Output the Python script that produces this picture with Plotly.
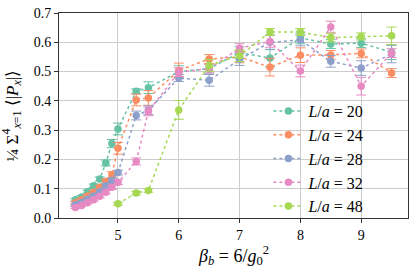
import plotly.graph_objects as go

beta_low = [4.3, 4.4, 4.5, 4.6, 4.7, 4.8, 4.9, 5.0, 5.3, 5.5, 6.0, 6.5, 7.0, 7.5, 8.0, 8.5, 9.0, 9.5]
beta_48 = [5.0, 5.3, 5.5, 6.0, 6.5, 7.0, 7.5, 8.0, 8.5, 9.0, 9.5]

p_L20 = [0.062, 0.072, 0.090, 0.110, 0.133, 0.188, 0.254, 0.304, 0.433, 0.445, 0.500, 0.510, 0.565, 0.546, 0.615, 0.594, 0.597, 0.566]
e_L20 = [0.004, 0.004, 0.005, 0.006, 0.007, 0.010, 0.014, 0.020, 0.008, 0.020, 0.020, 0.015, 0.020, 0.030, 0.020, 0.015, 0.015, 0.025]
p_L24 = [0.052, 0.062, 0.075, 0.088, 0.105, 0.125, 0.148, 0.238, 0.403, 0.410, 0.504, 0.543, 0.550, 0.515, 0.556, 0.557, 0.562, 0.495]
e_L24 = [0.004, 0.004, 0.005, 0.005, 0.006, 0.008, 0.010, 0.020, 0.020, 0.025, 0.025, 0.015, 0.020, 0.030, 0.025, 0.015, 0.015, 0.015]
p_L28 = [0.045, 0.053, 0.064, 0.075, 0.090, 0.110, 0.128, 0.155, 0.350, 0.368, 0.478, 0.470, 0.541, 0.600, 0.608, 0.535, 0.512, 0.560]
e_L28 = [0.003, 0.004, 0.004, 0.005, 0.006, 0.007, 0.008, 0.008, 0.015, 0.015, 0.012, 0.020, 0.020, 0.025, 0.020, 0.020, 0.025, 0.030]
p_L32 = [0.036, 0.043, 0.052, 0.062, 0.074, 0.088, 0.105, 0.122, 0.193, 0.364, 0.498, 0.510, 0.580, 0.603, 0.502, 0.652, 0.450, 0.563]
e_L32 = [0.003, 0.003, 0.004, 0.004, 0.005, 0.006, 0.007, 0.008, 0.012, 0.015, 0.015, 0.015, 0.015, 0.020, 0.020, 0.020, 0.030, 0.015]
p_L48 = [0.049, 0.085, 0.094, 0.369, 0.521, 0.554, 0.635, 0.635, 0.616, 0.620, 0.622]
e_L48 = [0.005, 0.006, 0.006, 0.032, 0.020, 0.020, 0.012, 0.012, 0.015, 0.012, 0.030]

names = ["<i>L</i>/<i>a</i> = 20", "<i>L</i>/<i>a</i> = 24", "<i>L</i>/<i>a</i> = 28",
         "<i>L</i>/<i>a</i> = 32", "<i>L</i>/<i>a</i> = 48"]
colors = ["#66c2a5", "#fc8d62", "#8da0cb", "#e78ac3", "#a6d854"]

series = [(beta_low, p_L20, e_L20), (beta_low, p_L24, e_L24), (beta_low, p_L28, e_L28),
          (beta_low, p_L32, e_L32), (beta_48, p_L48, e_L48)]

fig = go.Figure()
for (x, y, e), n, c in zip(series, names, colors):
    fig.add_trace(go.Scatter(
        x=x, y=y, name=n, mode="lines+markers",
        line=dict(color=c, width=1.5, dash="dot"),
        marker=dict(color=c, size=7.5),
        error_y=dict(type="data", array=e, color=c, thickness=1, width=5),
    ))

font = "Times New Roman, Liberation Serif, serif"
fig.update_layout(
    width=415, height=269,
    margin=dict(l=59, r=6, t=10, b=51),
    paper_bgcolor="white", plot_bgcolor="white",
    font=dict(family=font, size=14, color="black"),
    showlegend=True,
    legend=dict(x=0.6, y=0.605, xanchor="left", yanchor="top",
                bgcolor="rgba(255,255,255,0)", font=dict(size=16, family=font),
                itemwidth=30, tracegroupgap=0),
    annotations=[
        dict(text="<i>β<sub>b</sub></i> = 6/<i>g</i><sub>0</sub><sup>2</sup>",
             xref="paper", yref="paper", x=0.5, y=-0.185, xanchor="center", yanchor="middle",
             showarrow=False, font=dict(size=18, family=font)),
        dict(text="¼ Σ<sup>4</sup><sub><i>x</i>=1</sub> ⟨|<i>P<sub>x</sub></i>|⟩",
             xref="paper", yref="paper", x=-0.135, y=0.5, xanchor="center", yanchor="middle",
             textangle=-90, showarrow=False, font=dict(size=17, family=font)),
    ],
)
fig.update_xaxes(range=[4.03, 9.77], tickvals=[5, 6, 7, 8, 9],
                 showgrid=True, gridcolor="#cccccc", gridwidth=1,
                 showline=True, linecolor="#333333", linewidth=1, mirror=True,
                 ticks="outside", ticklen=4, tickcolor="#333333", zeroline=False,
                 tickfont=dict(size=14, family=font))
fig.update_yaxes(range=[0, 0.7], tickvals=[0, 0.1, 0.2, 0.3, 0.4, 0.5, 0.6, 0.7],
                 tickformat=".1f",
                 showgrid=True, gridcolor="#cccccc", gridwidth=1,
                 showline=True, linecolor="#333333", linewidth=1, mirror=True,
                 ticks="outside", ticklen=4, tickcolor="#333333", zeroline=False,
                 tickfont=dict(size=14, family=font))

fig.write_html("out.html", config={"displayModeBar": False},
               post_script="document.body.style.margin='0';document.body.style.overflow='hidden';")
